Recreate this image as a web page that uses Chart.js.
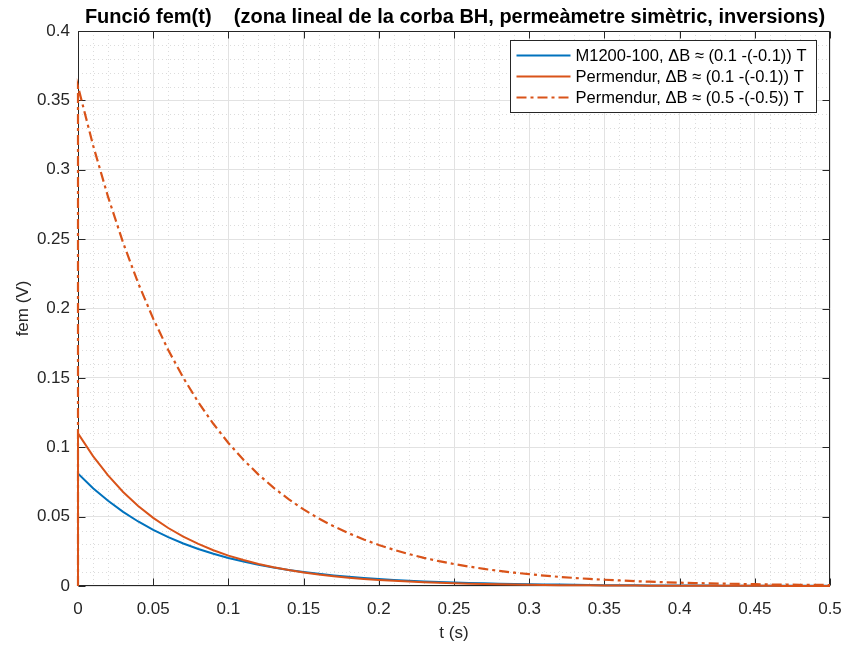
<!DOCTYPE html>
<html>
<head>
<meta charset="utf-8">
<script src="https://cdn.jsdelivr.net/npm/chart.js@4/dist/chart.umd.min.js"></script>
<style>
  html, body { margin: 0; padding: 0; background: #ffffff; }
  #wrap { width: 843px; height: 649px; position: relative; }
</style>
</head>
<body>
<div id="wrap"><canvas id="c"></canvas></div>
<script>
// Time samples (s); the first two share t = 0 so each trace rises vertically at the switching instant.
const times = [0, 0, 0.01, 0.02, 0.03, 0.04, 0.05, 0.06, 0.07, 0.08, 0.09,
  0.10, 0.11, 0.12, 0.13, 0.14, 0.15, 0.16, 0.17, 0.18, 0.19,
  0.20, 0.21, 0.22, 0.23, 0.24, 0.25, 0.26, 0.27, 0.28, 0.29,
  0.30, 0.31, 0.32, 0.33, 0.34, 0.35, 0.36, 0.37, 0.38, 0.39,
  0.40, 0.41, 0.42, 0.43, 0.44, 0.45, 0.46, 0.47, 0.48, 0.49, 0.50];

// Induced voltage (V) for each material / flux swing
const femM1200 = [0, 0.0810, 0.0705, 0.0614, 0.0534, 0.0465, 0.0404, 0.0352, 0.0306, 0.0267, 0.0232,
  0.0202, 0.0176, 0.0153, 0.0133, 0.0116, 0.0101, 0.0088, 0.0076, 0.0066, 0.0058,
  0.0050, 0.0044, 0.0038, 0.0033, 0.0029, 0.0025, 0.0022, 0.0019, 0.0017, 0.0015,
  0.0013, 0.0011, 0.0010, 0.0009, 0.0007, 0.0006, 0.0006, 0.0005, 0.0004, 0.0004,
  0.0003, 0.0003, 0.0003, 0.0002, 0.0002, 0.0002, 0.0002, 0.0001, 0.0001, 0.0001, 0.0001];

const femPermendurLow = [0, 0.1100, 0.0936, 0.0797, 0.0678, 0.0577, 0.0491, 0.0418, 0.0356, 0.0303, 0.0258,
  0.0219, 0.0187, 0.0159, 0.0135, 0.0115, 0.0098, 0.0083, 0.0071, 0.0060, 0.0051,
  0.0044, 0.0037, 0.0032, 0.0027, 0.0023, 0.0020, 0.0017, 0.0014, 0.0012, 0.0010,
  0.0009, 0.0008, 0.0006, 0.0005, 0.0005, 0.0004, 0.0003, 0.0003, 0.0002, 0.0002,
  0.0002, 0.0001, 0.0001, 0.0001, 0.0001, 0.0001, 0.0001, 0.0000, 0.0000, 0.0000, 0.0000];

const femPermendurHigh = [0, 0.3600, 0.3177, 0.2804, 0.2474, 0.2183, 0.1927, 0.1701, 0.1501, 0.1324, 0.1169,
  0.1031, 0.0910, 0.0803, 0.0709, 0.0626, 0.0552, 0.0487, 0.0430, 0.0380, 0.0335,
  0.0296, 0.0261, 0.0230, 0.0203, 0.0179, 0.0158, 0.0140, 0.0123, 0.0109, 0.0096,
  0.0085, 0.0075, 0.0066, 0.0058, 0.0051, 0.0045, 0.0040, 0.0035, 0.0031, 0.0027,
  0.0024, 0.0021, 0.0019, 0.0017, 0.0015, 0.0013, 0.0011, 0.0010, 0.0009, 0.0008, 0.0007];

const seriesNames = [
  'M1200-100, \u0394B \u2248 (0.1 -(-0.1)) T',
  'Permendur, \u0394B \u2248 (0.1 -(-0.1)) T',
  'Permendur, \u0394B \u2248 (0.5 -(-0.5)) T'
];

// Tick values and labels
const xTicks = [0, 0.05, 0.1, 0.15, 0.2, 0.25, 0.3, 0.35, 0.4, 0.45, 0.5];
const xTickLabels = ['0', '0.05', '0.1', '0.15', '0.2', '0.25', '0.3', '0.35', '0.4', '0.45', '0.5'];
const yTicks = [0, 0.05, 0.1, 0.15, 0.2, 0.25, 0.3, 0.35, 0.4];
const yTickLabels = ['0', '0.05', '0.1', '0.15', '0.2', '0.25', '0.3', '0.35', '0.4'];

const titleText = 'Funci\u00f3 fem(t)    (zona lineal de la corba BH, perme\u00e0metre sim\u00e8tric, inversions)';
const xLabel = 't (s)';
const yLabel = 'fem (V)';

const FONT = '"Liberation Sans", Arial, Helvetica, sans-serif';
const INK = '#262626';
const BLUE = '#0072BD';
const ORANGE = '#D95319';

const toPoints = vals => times.map((t, i) => ({ x: t, y: vals[i] }));

function labelFor(list, labels, v) {
  const i = list.findIndex(t => Math.abs(t - v) < 1e-9);
  return i >= 0 ? labels[i] : '';
}

// Dotted minor grid, axes box and inward tick marks
const framePlugin = {
  id: 'frame',
  beforeDatasetsDraw(chart) {
    const { ctx, chartArea: a, scales } = chart;
    const xs = scales.x, ys = scales.y;
    ctx.save();
    // minor grid every 0.01
    ctx.strokeStyle = '#dcdcdc';
    ctx.lineWidth = 1;
    ctx.setLineDash([1, 3]);
    for (let k = 1; k < 50; k++) {
      if (k % 5 === 0) continue;
      const px = Math.round(xs.getPixelForValue(k / 100)) + 0.5;
      ctx.beginPath(); ctx.moveTo(px, a.top); ctx.lineTo(px, a.bottom); ctx.stroke();
    }
    for (let k = 1; k < 40; k++) {
      if (k % 5 === 0) continue;
      const py = Math.round(ys.getPixelForValue(k / 100)) + 0.5;
      ctx.beginPath(); ctx.moveTo(a.left, py); ctx.lineTo(a.right, py); ctx.stroke();
    }
    ctx.setLineDash([]);
    // box
    ctx.strokeStyle = INK;
    const L = Math.round(a.left) + 0.5, R = Math.round(a.right) - 0.5;
    const T = Math.round(a.top) + 0.5, B = Math.round(a.bottom) - 0.5;
    ctx.beginPath();
    ctx.moveTo(L, T); ctx.lineTo(R, T); ctx.lineTo(R, B); ctx.lineTo(L, B); ctx.closePath();
    ctx.stroke();
    // inward ticks
    const tl = 7;
    ctx.beginPath();
    xTicks.forEach(v => {
      const px = Math.round(xs.getPixelForValue(v)) + 0.5;
      ctx.moveTo(px, B); ctx.lineTo(px, B - tl);
      ctx.moveTo(px, T); ctx.lineTo(px, T + tl);
    });
    yTicks.forEach(v => {
      const py = Math.round(ys.getPixelForValue(v)) + 0.5;
      ctx.moveTo(L, py); ctx.lineTo(L + tl, py);
      ctx.moveTo(R, py); ctx.lineTo(R - tl, py);
    });
    ctx.stroke();
    ctx.restore();
  },
  afterDatasetsDraw(chart) {
    // legend box in the upper right corner
    const { ctx, chartArea: a } = chart;
    const boxW = 306, boxH = 72;
    const bx = Math.round(a.right) - 14 - boxW + 0.5;
    const by = Math.round(a.top) + 9 + 0.5;
    ctx.save();
    ctx.fillStyle = '#ffffff';
    ctx.fillRect(bx, by, boxW, boxH);
    ctx.strokeStyle = INK;
    ctx.lineWidth = 1;
    ctx.strokeRect(bx, by, boxW, boxH);
    ctx.font = '16.5px ' + FONT;
    ctx.textBaseline = 'middle';
    ctx.textAlign = 'left';
    chart.data.datasets.forEach((ds, i) => {
      const yy = by + 15 + i * 21;
      ctx.strokeStyle = ds.borderColor;
      ctx.lineWidth = ds.borderWidth;
      ctx.setLineDash(ds.borderDash || []);
      ctx.beginPath(); ctx.moveTo(bx + 6, yy); ctx.lineTo(bx + 60, yy); ctx.stroke();
      ctx.setLineDash([]);
      ctx.fillStyle = '#000000';
      ctx.fillText(ds.label, bx + 65, yy + 1);
    });
    ctx.restore();
  },
  afterDraw(chart) {
    const { ctx, chartArea: a } = chart;
    const cx = (a.left + a.right) / 2;
    ctx.save();
    ctx.fillStyle = '#000000';
    ctx.textBaseline = 'middle';
    ctx.textAlign = 'center';
    ctx.font = 'bold 20px ' + FONT;
    ctx.fillText(titleText, cx + 1, 17);
    ctx.fillStyle = INK;
    ctx.font = '17px ' + FONT;
    ctx.fillText(xLabel, cx, 633);
    ctx.translate(23, (a.top + a.bottom) / 2);
    ctx.rotate(-Math.PI / 2);
    ctx.fillText(yLabel, 0, 0);
    ctx.restore();
  }
};

new Chart(document.getElementById('c'), {
  type: 'line',
  data: {
    datasets: [
      { label: seriesNames[0], data: toPoints(femM1200), borderColor: BLUE, borderWidth: 2,
        pointRadius: 0, tension: 0, order: 3, clip: 6 },
      { label: seriesNames[1], data: toPoints(femPermendurLow), borderColor: ORANGE, borderWidth: 2,
        pointRadius: 0, tension: 0, order: 2, clip: 6 },
      { label: seriesNames[2], data: toPoints(femPermendurHigh), borderColor: ORANGE, borderWidth: 2.2,
        borderDash: [10, 4, 3, 4], pointRadius: 0, tension: 0, order: 1, clip: 6 }
    ]
  },
  options: {
    responsive: true,
    maintainAspectRatio: false,
    animation: false,
    layout: { padding: { left: 0, top: 31, right: 13, bottom: 0 } },
    plugins: { legend: { display: false }, title: { display: false }, tooltip: { enabled: false } },
    scales: {
      x: {
        type: 'linear', min: 0, max: 0.5,
        afterBuildTicks: s => { s.ticks = xTicks.map(v => ({ value: v })); },
        afterFit: s => { s.height = 63; s.paddingLeft = 0; s.paddingRight = 0; },
        ticks: {
          autoSkip: false, maxRotation: 0, padding: 13, color: INK,
          font: { family: FONT, size: 17 },
          callback: v => labelFor(xTicks, xTickLabels, v)
        },
        grid: { color: '#e2e2e2', drawTicks: false, lineWidth: 1 },
        border: { display: false }
      },
      y: {
        type: 'linear', min: 0, max: 0.4,
        afterBuildTicks: s => { s.ticks = yTicks.map(v => ({ value: v })); },
        afterFit: s => { s.width = 78; s.paddingTop = 0; s.paddingBottom = 0; },
        ticks: {
          autoSkip: false, padding: 8, color: INK,
          font: { family: FONT, size: 17 },
          callback: v => labelFor(yTicks, yTickLabels, v)
        },
        grid: { color: '#e2e2e2', drawTicks: false, lineWidth: 1 },
        border: { display: false }
      }
    }
  },
  plugins: [framePlugin]
});
</script>
</body>
</html>
